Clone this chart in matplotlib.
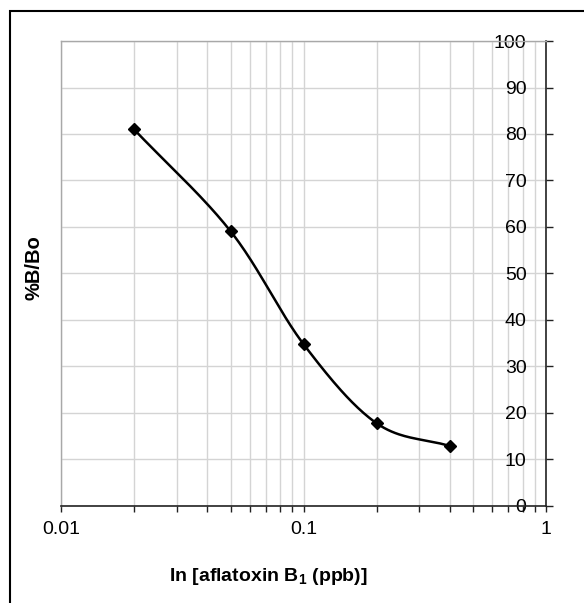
import numpy as np
import matplotlib
matplotlib.use('Agg')
import matplotlib.pyplot as plt
from matplotlib.patches import Rectangle
from matplotlib.ticker import LogLocator, FixedLocator, NullFormatter, FixedFormatter

plt.rcParams['font.family'] = ['Liberation Sans', 'DejaVu Sans']

# data
conc = [0.02, 0.05, 0.1, 0.2, 0.4]
pct_b_bo = [81.0, 59.1, 34.8, 17.8, 12.9]

x_ticks = [0.01, 0.1, 1]
x_tick_labels = ['0.01', '0.1', '1']
y_ticks = [0, 10, 20, 30, 40, 50, 60, 70, 80, 90, 100]


def smooth_curve(xs, ys, n=40):
  """Catmull-Rom spline through the points in log-x space (like Excel's smoothed line)."""
  lx = np.log10(xs)
  ys = np.asarray(ys, dtype=float)
  px = np.concatenate([[2 * lx[0] - lx[1]], lx, [2 * lx[-1] - lx[-2]]])
  py = np.concatenate([[2 * ys[0] - ys[1]], ys, [2 * ys[-1] - ys[-2]]])
  out_x, out_y = [], []
  t = np.linspace(0, 1, n)
  for i in range(1, len(px) - 2):
    for p, out in ((px, out_x), (py, out_y)):
      p0, p1, p2, p3 = p[i - 1], p[i], p[i + 1], p[i + 2]
      seg = 0.5 * ((2 * p1) + (-p0 + p2) * t + (2 * p0 - 5 * p1 + 4 * p2 - p3) * t ** 2
                   + (-p0 + 3 * p1 - 3 * p2 + p3) * t ** 3)
      out.extend(seg)
  return 10 ** np.array(out_x), np.array(out_y)


fig = plt.figure(figsize=(5.84, 6.03), dpi=100)
ax = fig.add_axes([0.1045, 0.1609, 0.8305, 0.7711])

# outer chart border
fig.patches.append(Rectangle((10 / 584, -0.1), 1.2, 0.1 + 1 - 11 / 603, transform=fig.transFigure,
                             fill=False, edgecolor='black', linewidth=1.5, zorder=0))

sx, sy = smooth_curve(conc, pct_b_bo)
ax.plot(sx, sy, color='black', linewidth=1.8, zorder=3)
ax.plot(conc, pct_b_bo, linestyle='none', marker='D', markersize=6.5, color='black', zorder=4)

ax.set_xscale('log')
ax.set_xlim(0.01, 1)
ax.set_ylim(0, 100)

ax.xaxis.set_major_locator(FixedLocator(x_ticks))
ax.xaxis.set_major_formatter(FixedFormatter(x_tick_labels))
ax.xaxis.set_minor_locator(LogLocator(base=10, subs=np.arange(2, 10)))
ax.xaxis.set_minor_formatter(NullFormatter())
ax.set_yticks(y_ticks)

ax.grid(True, which='both', axis='x', color='#d4d4d4', linewidth=1)
ax.grid(True, which='major', axis='y', color='#d4d4d4', linewidth=1)
ax.set_axisbelow(True)

for side in ('top', 'left'):
  ax.spines[side].set_color('#a8a8a8')
  ax.spines[side].set_linewidth(1)
for side in ('bottom', 'right'):
  ax.spines[side].set_color('#222222')
  ax.spines[side].set_linewidth(1.2)

ax.tick_params(axis='x', which='both', direction='out', length=4, width=1, color='#222222',
               labelsize=14, pad=7)
ax.tick_params(axis='y', which='both', left=False, labelleft=False, right=True, labelright=True,
               direction='out', length=5, width=1, color='#222222', labelsize=14, pad=-19)
for lbl in ax.get_yticklabels():
  lbl.set_horizontalalignment('right')

ax.set_xlabel('In [aflatoxin B$_{\\mathregular{1}}$ (ppb)]', fontsize=14, fontweight='bold')
ax.set_ylabel('%B/Bo', fontsize=14.5, fontweight='bold')
ax.xaxis.set_label_coords(0.427, -0.13)
ax.yaxis.set_label_coords(-0.037, 0.512)

fig.savefig('out.png', dpi=100)
